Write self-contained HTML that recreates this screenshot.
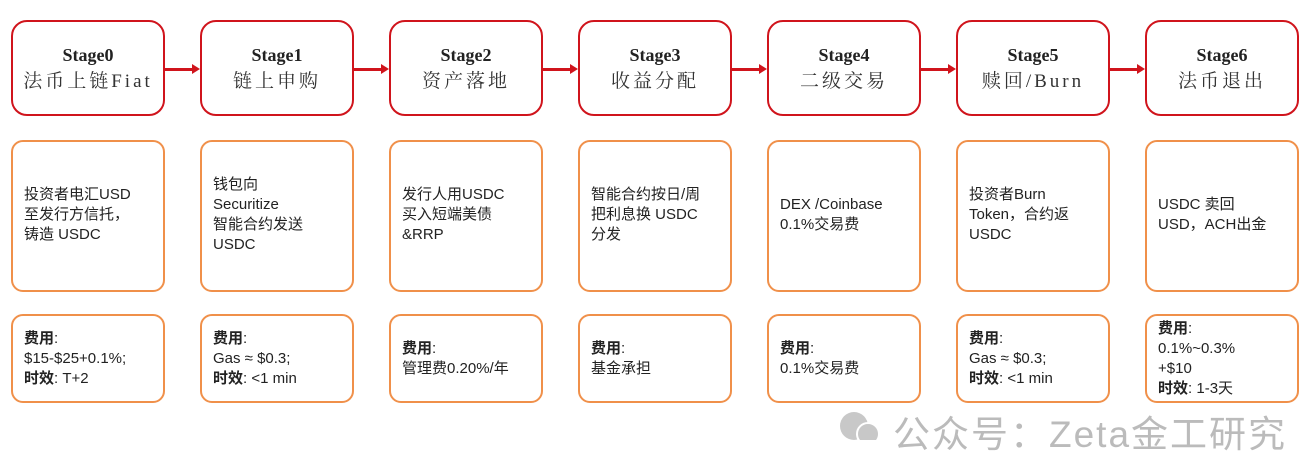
<!DOCTYPE html>
<html><head><meta charset="utf-8"><style>
body{margin:0;width:1308px;height:438px;background:#fff;position:relative;overflow:hidden;font-family:"Liberation Sans","Noto Sans CJK SC",sans-serif}
.t{position:absolute;top:20px;border:2.5px solid #d0141c;border-radius:16px;box-sizing:border-box;width:154px;height:96px;text-align:center;font-family:"Liberation Serif","Noto Serif CJK SC",serif;color:#222}
.t b{display:block;margin-top:21px;font-size:18px;line-height:24px}
.t span{display:block;font-size:19px;line-height:30px;color:#333;letter-spacing:3px}
.m,.b{position:absolute;border:2px solid #f0904a;border-radius:12px;box-sizing:border-box;width:154px}
.m{top:140px;height:152px}
.b{top:314px;height:89px}
.x{position:absolute;font-size:15px;line-height:20px;color:#222;white-space:nowrap}
.a{position:absolute;top:68px;height:2.5px;background:#d0141c;width:28px}
.a:after{content:"";position:absolute;right:-7px;top:-4.5px;border-left:8px solid #d0141c;border-top:5.5px solid transparent;border-bottom:5.5px solid transparent}
.wm{position:absolute;left:893px;top:404px;font-size:37px;color:#bbb;white-space:nowrap;letter-spacing:2px}
</style></head><body>
<div class="t" style="left:11px"><b>Stage0</b><span>法币上链Fiat</span></div>
<div class="t" style="left:200px"><b>Stage1</b><span>链上申购</span></div>
<div class="t" style="left:389px"><b>Stage2</b><span>资产落地</span></div>
<div class="t" style="left:578px"><b>Stage3</b><span>收益分配</span></div>
<div class="t" style="left:767px"><b>Stage4</b><span>二级交易</span></div>
<div class="t" style="left:956px"><b>Stage5</b><span>赎回/Burn</span></div>
<div class="t" style="left:1145px"><b>Stage6</b><span>法币退出</span></div>
<div class="a" style="left:165px"></div><div class="a" style="left:354px"></div><div class="a" style="left:543px"></div><div class="a" style="left:732px"></div><div class="a" style="left:921px"></div><div class="a" style="left:1110px"></div>

<div class="m" style="left:11px"></div><div class="m" style="left:200px"></div><div class="m" style="left:389px"></div><div class="m" style="left:578px"></div><div class="m" style="left:767px"></div><div class="m" style="left:956px"></div><div class="m" style="left:1145px"></div>
<div class="x" style="left:24px;top:185px">投资者电汇USD<br>至发行方信托，<br>铸造 USDC</div>
<div class="x" style="left:213px;top:175px">钱包向<br>Securitize<br>智能合约发送<br>USDC</div>
<div class="x" style="left:402px;top:185px">发行人用USDC<br>买入短端美债<br>&amp;RRP</div>
<div class="x" style="left:591px;top:185px">智能合约按日/周<br>把利息换 USDC<br>分发</div>
<div class="x" style="left:780px;top:195px">DEX /Coinbase<br>0.1%交易费</div>
<div class="x" style="left:969px;top:185px">投资者Burn<br>Token，合约返<br>USDC</div>
<div class="x" style="left:1158px;top:195px">USDC 卖回<br>USD，ACH出金</div>

<div class="b" style="left:11px"></div><div class="b" style="left:200px"></div><div class="b" style="left:389px"></div><div class="b" style="left:578px"></div><div class="b" style="left:767px"></div><div class="b" style="left:956px"></div><div class="b" style="left:1145px"></div>
<div class="x" style="left:24px;top:329px"><b>费用</b>:<br>$15-$25+0.1%;<br><b>时效</b>:&nbsp;T+2</div>
<div class="x" style="left:213px;top:329px"><b>费用</b>:<br>Gas ≈ $0.3;<br><b>时效</b>:&nbsp;&lt;1 min</div>
<div class="x" style="left:402px;top:339px"><b>费用</b>:<br>管理费0.20%/年</div>
<div class="x" style="left:591px;top:339px"><b>费用</b>:<br>基金承担</div>
<div class="x" style="left:780px;top:339px"><b>费用</b>:<br>0.1%交易费</div>
<div class="x" style="left:969px;top:329px"><b>费用</b>:<br>Gas ≈ $0.3;<br><b>时效</b>:&nbsp;&lt;1 min</div>
<div class="x" style="left:1158px;top:319px"><b>费用</b>:<br>0.1%~0.3%<br>+$10<br><b>时效</b>:&nbsp;1-3天</div>

<svg style="position:absolute;left:836px;top:410px" width="48" height="30"><circle cx="18" cy="16" r="14" fill="#c8c8c8"/><circle cx="32" cy="24" r="11" fill="#c8c8c8" stroke="#fff" stroke-width="2"/></svg>
<div class="wm">公众号：Zeta金工研究</div>
</body></html>
